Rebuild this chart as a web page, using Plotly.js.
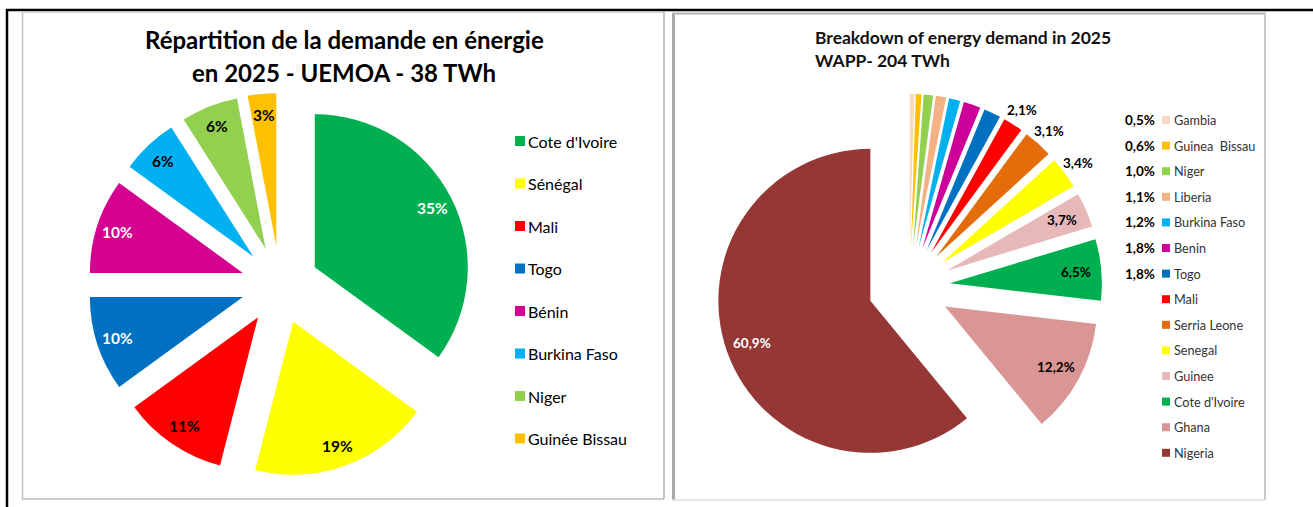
<!DOCTYPE html>
<html><head><meta charset="utf-8">
<script src="https://cdn.plot.ly/plotly-3.0.1.min.js"></script>
<style>html,body{margin:0;padding:0;background:#fff;} #chart{width:1313px;height:507px;}</style>
</head><body><div id="chart"></div>
<script>
const W = 1313, H = 507;

// ---- Left chart: UEMOA 2025 (38 TWh) ----
const uemoaTitle1 = "Répartition de la demande en énergie";
const uemoaTitle2 = "en 2025 - UEMOA - 38 TWh";
const uemoaCountries = ["Cote d'Ivoire", "Sénégal", "Mali", "Togo", "Bénin", "Burkina Faso", "Niger", "Guinée Bissau"];
const uemoaShares = [35, 19, 11, 10, 10, 6, 6, 3];
const uemoaColors = ["#00B050", "#FFFF00", "#FF0000", "#0070C0", "#D5008F", "#00B0F0", "#92D050", "#FFC000"];
const uemoaLabelColors = ["#FFFFFF", "#000000", "#000000", "#FFFFFF", "#FFFFFF", "#000000", "#000000", "#000000"];

// ---- Right chart: WAPP 2025 (204 TWh) ----
const wappTitle1 = "Breakdown of energy demand in 2025";
const wappTitle2 = "WAPP- 204 TWh";
const wappCountries = ["Gambia", "Guinea  Bissau", "Niger", "Liberia", "Burkina Faso", "Benin", "Togo", "Mali", "Serria Leone", "Senegal", "Guinee", "Cote d'Ivoire", "Ghana", "Nigeria"];
const wappShares = [0.5, 0.6, 1.0, 1.1, 1.2, 1.8, 1.8, 2.1, 3.1, 3.4, 3.7, 6.5, 12.2, 60.9];
const wappColors = ["#F9D8C4", "#FFC000", "#92D050", "#F4B183", "#00B0F0", "#CC0099", "#0070C0", "#FF0000", "#E46C0A", "#FFFF00", "#E6B9B8", "#00B050", "#D99694", "#953735"];
// where each data label is drawn: beside the legend, outside the slice, or inside it
const wappLabelPlace = ["legend", "legend", "legend", "legend", "legend", "legend", "legend", "outside", "outside", "outside", "inside", "inside", "inside", "inside"];
const wappLabelColors = ["#000", "#000", "#000", "#000", "#000", "#000", "#000", "#000", "#000", "#000", "#000", "#000", "#000", "#FFFFFF"];

const FONT = "Lato, 'Open Sans', sans-serif";

// pie geometry (pixels) -> domain so Plotly draws it at that place/size
function domainFor(cx, cy, r, pull) {
  const half = r * (1 + pull);
  return { x: [(cx - half) / W, (cx + half) / W], y: [1 - (cy + half) / H, 1 - (cy - half) / H] };
}
const px = v => v / W, py = v => 1 - v / H;

const L = { cx: 280, cy: 285, r: 153, pull: 0.255 };
const R = { cx: 909, cy: 287, r: 152, pull: 0.27 };

const fmtFr = v => v.toFixed(1).replace('.', ',') + '%';

const traces = [
  {
    type: 'pie', labels: uemoaCountries, values: uemoaShares, sort: false, direction: 'clockwise', rotation: 0,
    marker: { colors: uemoaColors, line: { width: 0 } }, pull: L.pull, textinfo: 'none', hoverinfo: 'label+percent',
    domain: domainFor(L.cx, L.cy, L.r, L.pull), showlegend: false
  },
  {
    type: 'pie', labels: wappCountries, values: wappShares, sort: false, direction: 'clockwise', rotation: 0,
    marker: { colors: wappColors, line: { width: 0 } }, pull: R.pull, textinfo: 'none', hoverinfo: 'label+percent',
    domain: domainFor(R.cx, R.cy, R.r, R.pull), showlegend: false
  }
];

const annotations = [];
const shapes = [];

// label position along slice bisector, measured from the pulled slice apex
function slicePoints(geom, values) {
  const tot = values.reduce((a, b) => a + b, 0);
  let cum = 0;
  return values.map(v => {
    const mid = (cum + v / 2) / tot * 2 * Math.PI; cum += v;
    const dx = Math.sin(mid), dy = -Math.cos(mid);
    const ax = geom.cx + geom.pull * geom.r * dx, ay = geom.cy + geom.pull * geom.r * dy;
    return { ax, ay, dx, dy };
  });
}

// Left chart labels
slicePoints(L, uemoaShares).forEach((p, i) => {
  const k = 0.86 * L.r;
  annotations.push({
    xref: 'paper', yref: 'paper', x: px(p.ax + k * p.dx), y: py(p.ay + k * p.dy), xanchor: 'center', yanchor: 'middle',
    text: uemoaShares[i] + '%', showarrow: false,
    font: { family: FONT, size: 15.5, color: uemoaLabelColors[i], weight: 'bold' }
  });
});

// Left legend
const lLegX = 515, lLegY0 = 141, lLegStep = 42.5;
uemoaCountries.forEach((c, i) => {
  const y = lLegY0 + i * lLegStep;
  shapes.push({ type: 'rect', xref: 'paper', yref: 'paper', x0: px(lLegX), x1: px(lLegX + 10), y0: py(y + 5), y1: py(y - 5), fillcolor: uemoaColors[i], line: { width: 0 } });
  annotations.push({ xref: 'paper', yref: 'paper', x: px(lLegX + 11), y: py(y), xanchor: 'left', yanchor: 'middle', text: c, showarrow: false, font: { family: FONT, size: 16, color: '#000' } });
});

// Left title
annotations.push({ xref: 'paper', yref: 'paper', x: px(344), y: py(40), xanchor: 'center', yanchor: 'middle', text: uemoaTitle1, showarrow: false, font: { family: FONT, size: 24, color: '#000', weight: 'bold' } });
annotations.push({ xref: 'paper', yref: 'paper', x: px(344), y: py(72), xanchor: 'center', yanchor: 'middle', text: uemoaTitle2, showarrow: false, font: { family: FONT, size: 24, color: '#000', weight: 'bold' } });

// Right chart labels
const rLegX = 1162, rLegY0 = 120, rLegStep = 25.6;
slicePoints(R, wappShares).forEach((p, i) => {
  const place = wappLabelPlace[i];
  let x, y, xa = 'center';
  if (place === 'legend') { x = rLegX - 5; y = rLegY0 + i * rLegStep; xa = 'right'; }
  else {
    const k = (place === 'outside' ? 1.11 : 0.83) * R.r;
    x = p.ax + k * p.dx; y = p.ay + k * p.dy;
  }
  annotations.push({
    xref: 'paper', yref: 'paper', x: px(x), y: py(y), xanchor: xa, yanchor: 'middle',
    text: fmtFr(wappShares[i]), showarrow: false,
    font: { family: FONT, size: 13.5, color: wappLabelColors[i], weight: 'bold' }
  });
});

// Right legend
wappCountries.forEach((c, i) => {
  const y = rLegY0 + i * rLegStep;
  shapes.push({ type: 'rect', xref: 'paper', yref: 'paper', x0: px(rLegX), x1: px(rLegX + 8), y0: py(y + 4), y1: py(y - 4), fillcolor: wappColors[i], line: { width: 0 } });
  annotations.push({ xref: 'paper', yref: 'paper', x: px(rLegX + 10), y: py(y), xanchor: 'left', yanchor: 'middle', text: c, showarrow: false, font: { family: FONT, size: 12.7, color: '#333' } });
});

// Right title
annotations.push({ xref: 'paper', yref: 'paper', x: px(813), y: py(37), xanchor: 'left', yanchor: 'middle', text: wappTitle1, showarrow: false, font: { family: FONT, size: 17.5, color: '#111', weight: 'bold' } });
annotations.push({ xref: 'paper', yref: 'paper', x: px(813), y: py(61), xanchor: 'left', yanchor: 'middle', text: wappTitle2, showarrow: false, font: { family: FONT, size: 17.5, color: '#111', weight: 'bold' } });

// Frames
function line(x0, y0, x1, y1, color, width) {
  shapes.push({ type: 'line', xref: 'paper', yref: 'paper', x0: px(x0), y0: py(y0), x1: px(x1), y1: py(y1), line: { color, width } });
}
// outer black page border
line(6, 10, 1313, 10, '#000', 2.5);
line(7, 9, 7, 507, '#000', 2.5);
// left panel frame
line(22, 12, 664, 12, '#C4C4C4', 1.5);
line(22.5, 12, 22.5, 499, '#C4C4C4', 1.5);
line(22, 499, 664, 499, '#BDBDBD', 1.5);
line(664, 12, 664, 499, '#8C8C8C', 1);
// right panel frame
line(673.5, 13, 673.5, 500, '#A8A8A8', 3);
line(672, 13.5, 1266, 13.5, '#B4B4B4', 2);
line(1265, 13, 1265, 500, '#C8C8C8', 2);
line(672, 500, 1266, 500, '#DCDCDC', 1.5);

const layout = {
  width: W, height: H, margin: { l: 0, r: 0, t: 0, b: 0, autoexpand: false },
  paper_bgcolor: '#FFFFFF', plot_bgcolor: '#FFFFFF', showlegend: false,
  annotations, shapes, font: { family: FONT }
};

Plotly.newPlot('chart', traces, layout, { staticPlot: true, displayModeBar: false });
</script>
</body></html>
